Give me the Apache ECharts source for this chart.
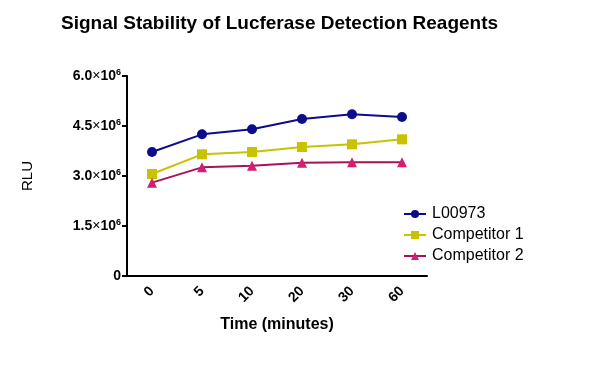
<!DOCTYPE html>
<html><head><meta charset="utf-8">
<script src="https://cdn.jsdelivr.net/npm/echarts@6/dist/echarts.min.js"></script>
<style>html,body{margin:0;padding:0;background:#fff}#c{width:598px;height:374px}</style>
</head><body><div id="c"></div>
<script>
const categories = ['0','5','10','20','30','60'];
const seriesNames = ['L00973','Competitor 1','Competitor 2'];
const l00973 = [3.72e6, 4.25e6, 4.40e6, 4.71e6, 4.85e6, 4.77e6];
const competitor1 = [3.06e6, 3.65e6, 3.72e6, 3.87e6, 3.95e6, 4.10e6];
const competitor2 = [2.80e6, 3.26e6, 3.31e6, 3.40e6, 3.41e6, 3.41e6];
const yTicks = [0, 1.5e6, 3.0e6, 4.5e6, 6.0e6];

const chart = echarts.init(document.getElementById('c'));
const font = 'Arial, "Liberation Sans", sans-serif';
function mk(name, data, color, lineColor, symbol, size){
  return {name, type:'line', data, symbol, symbolSize:size,
    itemStyle:{color:color}, lineStyle:{color:lineColor, width:2}, emphasis:{disabled:true}};
}
chart.setOption({
  animation:false,
  textStyle:{fontFamily:font},
  title:{text:'Signal Stability of Lucferase Detection Reagents', left:56, top:9,
    textStyle:{fontSize:19, fontWeight:'bold', color:'#000', fontFamily:font}},
  grid:{left:127, right:171, top:76, bottom:98},
  legend:{orient:'vertical', left:398, top:201, itemGap:5, itemWidth:22, itemHeight:10,
    textStyle:{fontSize:16, color:'#000', fontFamily:font, padding:[0,0,0,1]},
    data:seriesNames},
  xAxis:{type:'category', data:categories, boundaryGap:true,
    name:'Time (minutes)', nameLocation:'middle', nameGap:41,
    nameTextStyle:{fontSize:16, fontWeight:'bold', color:'#000'},
    axisLine:{lineStyle:{color:'#000', width:2}},
    axisTick:{alignWithLabel:true, length:5, lineStyle:{color:'#000', width:2}},
    axisLabel:{rotate:45, fontSize:14, fontWeight:'bold', color:'#000', margin:13}},
  yAxis:{type:'value', min:0, max:6e6, interval:1.5e6,
    name:'RLU', nameLocation:'middle', nameGap:92, nameRotate:90,
    nameTextStyle:{fontSize:15, color:'#000'},
    splitLine:{show:false},
    axisLine:{show:true, lineStyle:{color:'#000', width:2}},
    axisTick:{show:true, length:5, lineStyle:{color:'#000', width:2}},
    axisLabel:{fontSize:14, fontWeight:'bold', color:'#000', margin:6,
      formatter:function(v){ if(v===0) return '0'; return (v/1e6).toFixed(1)+'{x|×}10{sup|6}'; },
      rich:{x:{fontSize:14, fontWeight:'normal', color:'#000'},
            sup:{fontSize:9, fontWeight:'bold', color:'#000', verticalAlign:'top', padding:[0,0,7,0]}}}},
  series:[
    mk(seriesNames[0], l00973, '#0c0c8c', '#0c0c8c', 'circle', 10),
    mk(seriesNames[1], competitor1, '#c8c200', '#c8c200', 'rect', 10),
    mk(seriesNames[2], competitor2, '#d21f72', '#a8125a', 'triangle', 10)
  ]
});
</script></body></html>
